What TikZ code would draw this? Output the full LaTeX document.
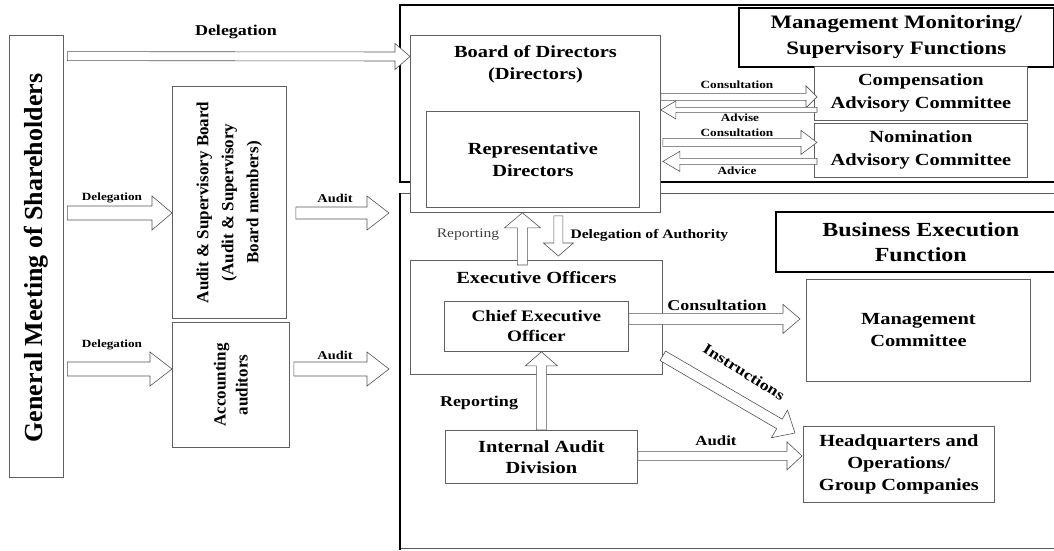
\documentclass[tikz,border=0pt]{standalone}
\usepackage{fontspec}
\setmainfont{Liberation Serif}[FakeStretch=1.2]
\newfontfamily\rotfont{Liberation Serif}
\usetikzlibrary{calc}
\newcommand\fsz[2]{\fontsize{#1}{#2}\selectfont}
\newcommand\fatarrow[5]{%
  \draw[fat] let \p1=(#1), \p2=(#2), \n1={atan2(\y2-\y1,\x2-\x1)}, \n2={veclen(\x2-\x1,\y2-\y1)} in
    [shift={(\p1)},rotate=\n1] (0pt,-#3) -- ({\n2*1pt-#5},-#3) -- ({\n2*1pt-#5},-#4) -- ({\n2*1pt},0pt)
    -- ({\n2*1pt-#5},#4) -- ({\n2*1pt-#5},#3) -- (0pt,#3) -- cycle;}

\begin{document}
\begin{tikzpicture}[x=1pt,y=-1pt,
  box/.style={draw=gray!75!black,line width=.8pt,fill=white,align=center,anchor=north west,font=\bfseries\fsz{17}{22}},
  title/.style={draw=black,line width=1.5pt,fill=white,align=center,anchor=north west,font=\bfseries\fsz{19}{26}},
  fat/.style={draw=gray!65!black,line width=.6pt,fill=white,line join=miter},
  lab/.style={font=\bfseries\fsz{#1}{#1}},lab/.default=14]
\useasboundingbox (0,0) rectangle (1054,550);
\draw[line width=1.6pt] (1060,5) -- (400,5) -- (400,182) -- (1060,182);
\draw[gray!70!black,line width=.7pt] (1060,193) -- (400,193) -- (400,548) -- (1060,548);
\draw[line width=1.6pt] (400,193) -- (400,550);

\node[box,anchor=center,minimum width=54pt,minimum height=442pt,
  label={[rotate=90,font=\rotfont\bfseries\fsz{26}{30},xshift=-2pt]center:{General Meeting of Shareholders}}] (gm) at (36,256) {};
\node[box,minimum width=114pt,minimum height=232pt,
  label={[rotate=90,align=center,font=\rotfont\bfseries\fsz{17}{25}]center:{Audit \& Supervisory Board\\(Audit \& Supervisory\\Board members)}}] (asb) at (172,86) {};
\node[box,minimum width=117pt,minimum height=125pt,
  label={[rotate=90,align=center,font=\rotfont\bfseries\fsz{17}{22}]center:{Accounting\\auditors}}] (acc) at (172,322) {};

\node[box,minimum width=250pt,minimum height=177pt,
  label={[anchor=north,yshift=-7pt,align=center,font=\bfseries\fsz{17}{22}]north:{Board of Directors\\(Directors)}}] (bod) at (410,35) {};
\node[box,minimum width=213pt,minimum height=96pt] (rep) at (426,111) {Representative\\Directors};
\node[title,minimum width=315pt,minimum height=59pt] (mmt) at (738,7) {Management Monitoring/\\Supervisory Functions};
\node[box,minimum width=213pt,minimum height=54pt,font=\bfseries\fsz{17}{23}] (comp) at (814,66) {Compensation\\Advisory Committee};
\node[box,minimum width=213pt,minimum height=54pt,font=\bfseries\fsz{17}{23}] (nom) at (814,123) {Nomination\\Advisory Committee};

\node[title,minimum width=290pt,minimum height=60pt,font=\bfseries\fsz{20}{25}] (bet) at (775,211) {Business Execution\\Function};
\node[box,minimum width=252pt,minimum height=114pt,
  label={[anchor=north,yshift=-8pt,font=\bfseries\fsz{17}{22}]north:Executive Officers}] (exec) at (410,260) {};
\node[box,minimum width=184pt,minimum height=50pt,font=\bfseries\fsz{16}{20}] (ceo) at (444,301) {Chief Executive\\Officer};
\node[box,minimum width=224pt,minimum height=102pt] (mgmt) at (806,279) {Management\\Committee};
\node[box,minimum width=192pt,minimum height=53pt,font=\bfseries\fsz{17}{21}] (iad) at (445,430) {Internal Audit\\Division};
\node[box,minimum width=191pt,minimum height=76pt] (hq) at (803,426) {Headquarters and\\Operations/\\Group Companies};

\coordinate (aud1) at (389,213);
\coordinate (aud2) at (389,369);
\fatarrow{$(gm.north east)+(4,21.5)$}{$(bod.north west)+(0,21.5)$}{4.5pt}{13pt}{15pt}
\fatarrow{$(gm.east|-aud1)+(4,0)$}{asb.west|-aud1}{7pt}{17pt}{20pt}
\fatarrow{$(asb.east|-aud1)+(9,0)$}{aud1}{6pt}{17pt}{22pt}
\fatarrow{$(gm.east|-aud2)+(4,0)$}{acc.west|-aud2}{7pt}{17pt}{22pt}
\fatarrow{$(acc.east|-aud2)+(4,0)$}{aud2}{7pt}{17pt}{22pt}

\fatarrow{$(bod.east|-comp.west)+(0,3.5)$}{$(comp.west)+(3,3.5)$}{3.5pt}{11pt}{11pt}
\fatarrow{$(comp.west)+(3,16.5)$}{$(bod.east|-comp.west)+(0,16.5)$}{2.5pt}{9pt}{15pt}
\fatarrow{$(bod.east|-nom.west)+(2,-8)$}{$(nom.west)+(3,-8)$}{4pt}{12pt}{16pt}
\fatarrow{$(nom.west)+(3,11)$}{$(bod.east|-nom.west)+(2,11)$}{3pt}{10pt}{17pt}

\fatarrow{$(exec.north)+(-14,5)$}{$(bod.south)+(-13,0)$}{5pt}{18pt}{15pt}
\fatarrow{$(bod.south)+(23,3)$}{$(exec.north)+(22,-4)$}{4.5pt}{15pt}{13pt}
\fatarrow{$(ceo.east)+(0,-7.5)$}{$(ceo.east-|mgmt.west)+(-6,-7.5)$}{5.5pt}{14.5pt}{17pt}
\fatarrow{$(exec.south east)+(0,-19)$}{$(hq.north west)+(-8,7)$}{5.5pt}{16pt}{18pt}
\fatarrow{iad.north}{iad.north|-ceo.south}{5pt}{16pt}{14pt}
\fatarrow{$(iad.east)+(0,-1)$}{$(iad.east-|hq.west)+(-1,-1)$}{4.5pt}{14pt}{15pt}

\node[lab=15] (dtop) at (236,32) {Delegation};
\node[lab=11] (dasb) at (112,198) {Delegation};
\node[lab=12] (aasb) at (335,198) {Audit};
\node[lab=11] (dacc) at (112,345) {Delegation};
\node[lab=12] (aacc) at (335,355) {Audit};
\node[lab=11] (cons1) at (737,85) {Consultation};
\node[lab=11] (advs) at (740,118) {Advise};
\node[lab=11] (cons2) at (737,133) {Consultation};
\node[lab=11] (advc) at (737,171) {Advice};
\node[font=\fsz{13}{13},text=black!75] (rep1) at (468,235) {Reporting};
\node[lab=13,anchor=west] (dauth) at (567,235) {Delegation of Authority};
\node[lab=15] (cons3) at (717,305) {Consultation};
\node[lab=15,rotate=-32] (instr) at (744,372) {Instructions};
\node[lab=15] (rep2) at (479,403) {Reporting};
\node[lab=14] (aiad) at (716,441) {Audit};
\end{tikzpicture}
\end{document}
